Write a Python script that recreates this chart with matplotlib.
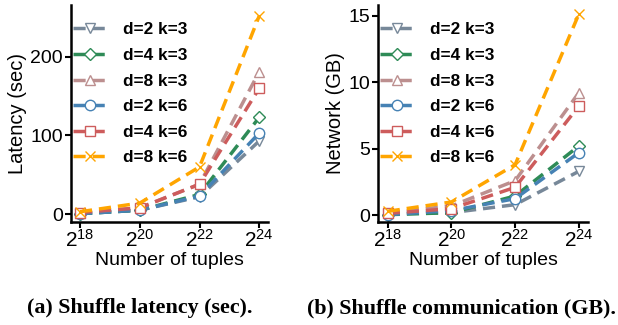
import numpy as np
import matplotlib
matplotlib.use('Agg')
import matplotlib.pyplot as plt

plt.rcParams['font.family'] = ['Liberation Sans', 'DejaVu Sans']
plt.rcParams['mathtext.fontset'] = 'custom'
plt.rcParams['mathtext.rm'] = 'Liberation Sans'
plt.rcParams['mathtext.it'] = 'Liberation Sans:italic'
plt.rcParams['mathtext.bf'] = 'Liberation Sans:bold'

exps = [18, 20, 22, 24]
labels = ['d=2 k=3', 'd=4 k=3', 'd=8 k=3', 'd=2 k=6', 'd=4 k=6', 'd=8 k=6']
colors = ['#778899', '#2E8B57', '#BC8F8F', '#4682B4', '#CD5C5C', '#FFA500']
markers = ['v', 'D', '^', 'o', 's', 'x']

latency = [
    [0.5, 5, 22, 93],
    [0.5, 5, 25, 123],
    [1.5, 8, 38, 181],
    [0.5, 5, 23, 103],
    [2, 8, 38, 160],
    [3, 14, 60, 252],
]
network = [
    [0.1, 0.2, 0.8, 3.3],
    [0.05, 0.2, 1.45, 5.2],
    [0.2, 0.7, 2.6, 9.2],
    [0.05, 0.35, 1.25, 4.7],
    [0.15, 0.5, 2.1, 8.2],
    [0.3, 1.0, 3.8, 15.1],
]

fig = plt.figure(figsize=(6.18, 3.25), dpi=100)
ax1 = fig.add_axes([0.115, 0.317, 0.319, 0.668])
ax2 = fig.add_axes([0.612, 0.317, 0.340, 0.668])

def draw(ax, data, ylabel, ylim, yticks):
    for vals, lab, c, m in zip(data, labels, colors, markers):
        ms = 6.5 if m == 'D' else 7.5
        ax.plot(exps, vals, linestyle='--', dashes=(3.5, 2), color=c, lw=2.5,
                marker=m, markersize=ms, markerfacecolor='white',
                markeredgecolor=c, markeredgewidth=1, label=lab)
    ax.set_xlim(17.7, 24.3)
    ax.set_ylim(*ylim)
    ax.set_xticks(exps)
    ax.set_xticklabels(['$2^{%d}$' % e for e in exps])
    ax.set_yticks(yticks)
    ax.tick_params(axis='y', labelsize=14, width=1.5, length=4, pad=2)
    ax.tick_params(axis='x', labelsize=15, width=1.5, length=4, pad=1)
    ax.set_xlabel('Number of tuples', fontsize=14, labelpad=1)
    ax.set_ylabel(ylabel, fontsize=14.5, labelpad=2)
    for s in ['top', 'right']:
        ax.spines[s].set_visible(False)
    for s in ['left', 'bottom']:
        ax.spines[s].set_linewidth(1.8)
    ax.legend(loc='upper left', bbox_to_anchor=(-0.05, 0.975), frameon=False,
              prop={'weight': 'bold', 'size': 12.4}, handlelength=2.0,
              handletextpad=0.9, labelspacing=0.61, borderpad=0.2)

draw(ax1, latency, 'Latency (sec)', (-10, 266), [0, 100, 200])
draw(ax2, network, 'Network (GB)', (-0.5, 15.8), [0, 5, 10, 15])

fig.text(0.2265, 0.052, '(a) Shuffle latency (sec).', ha='center', va='center',
         family='Liberation Serif', weight='bold', fontsize=15.8)
fig.text(0.746, 0.052, '(b) Shuffle communication (GB).', ha='center', va='center',
         family='Liberation Serif', weight='bold', fontsize=15.8)

fig.savefig('out.png', dpi=100)
